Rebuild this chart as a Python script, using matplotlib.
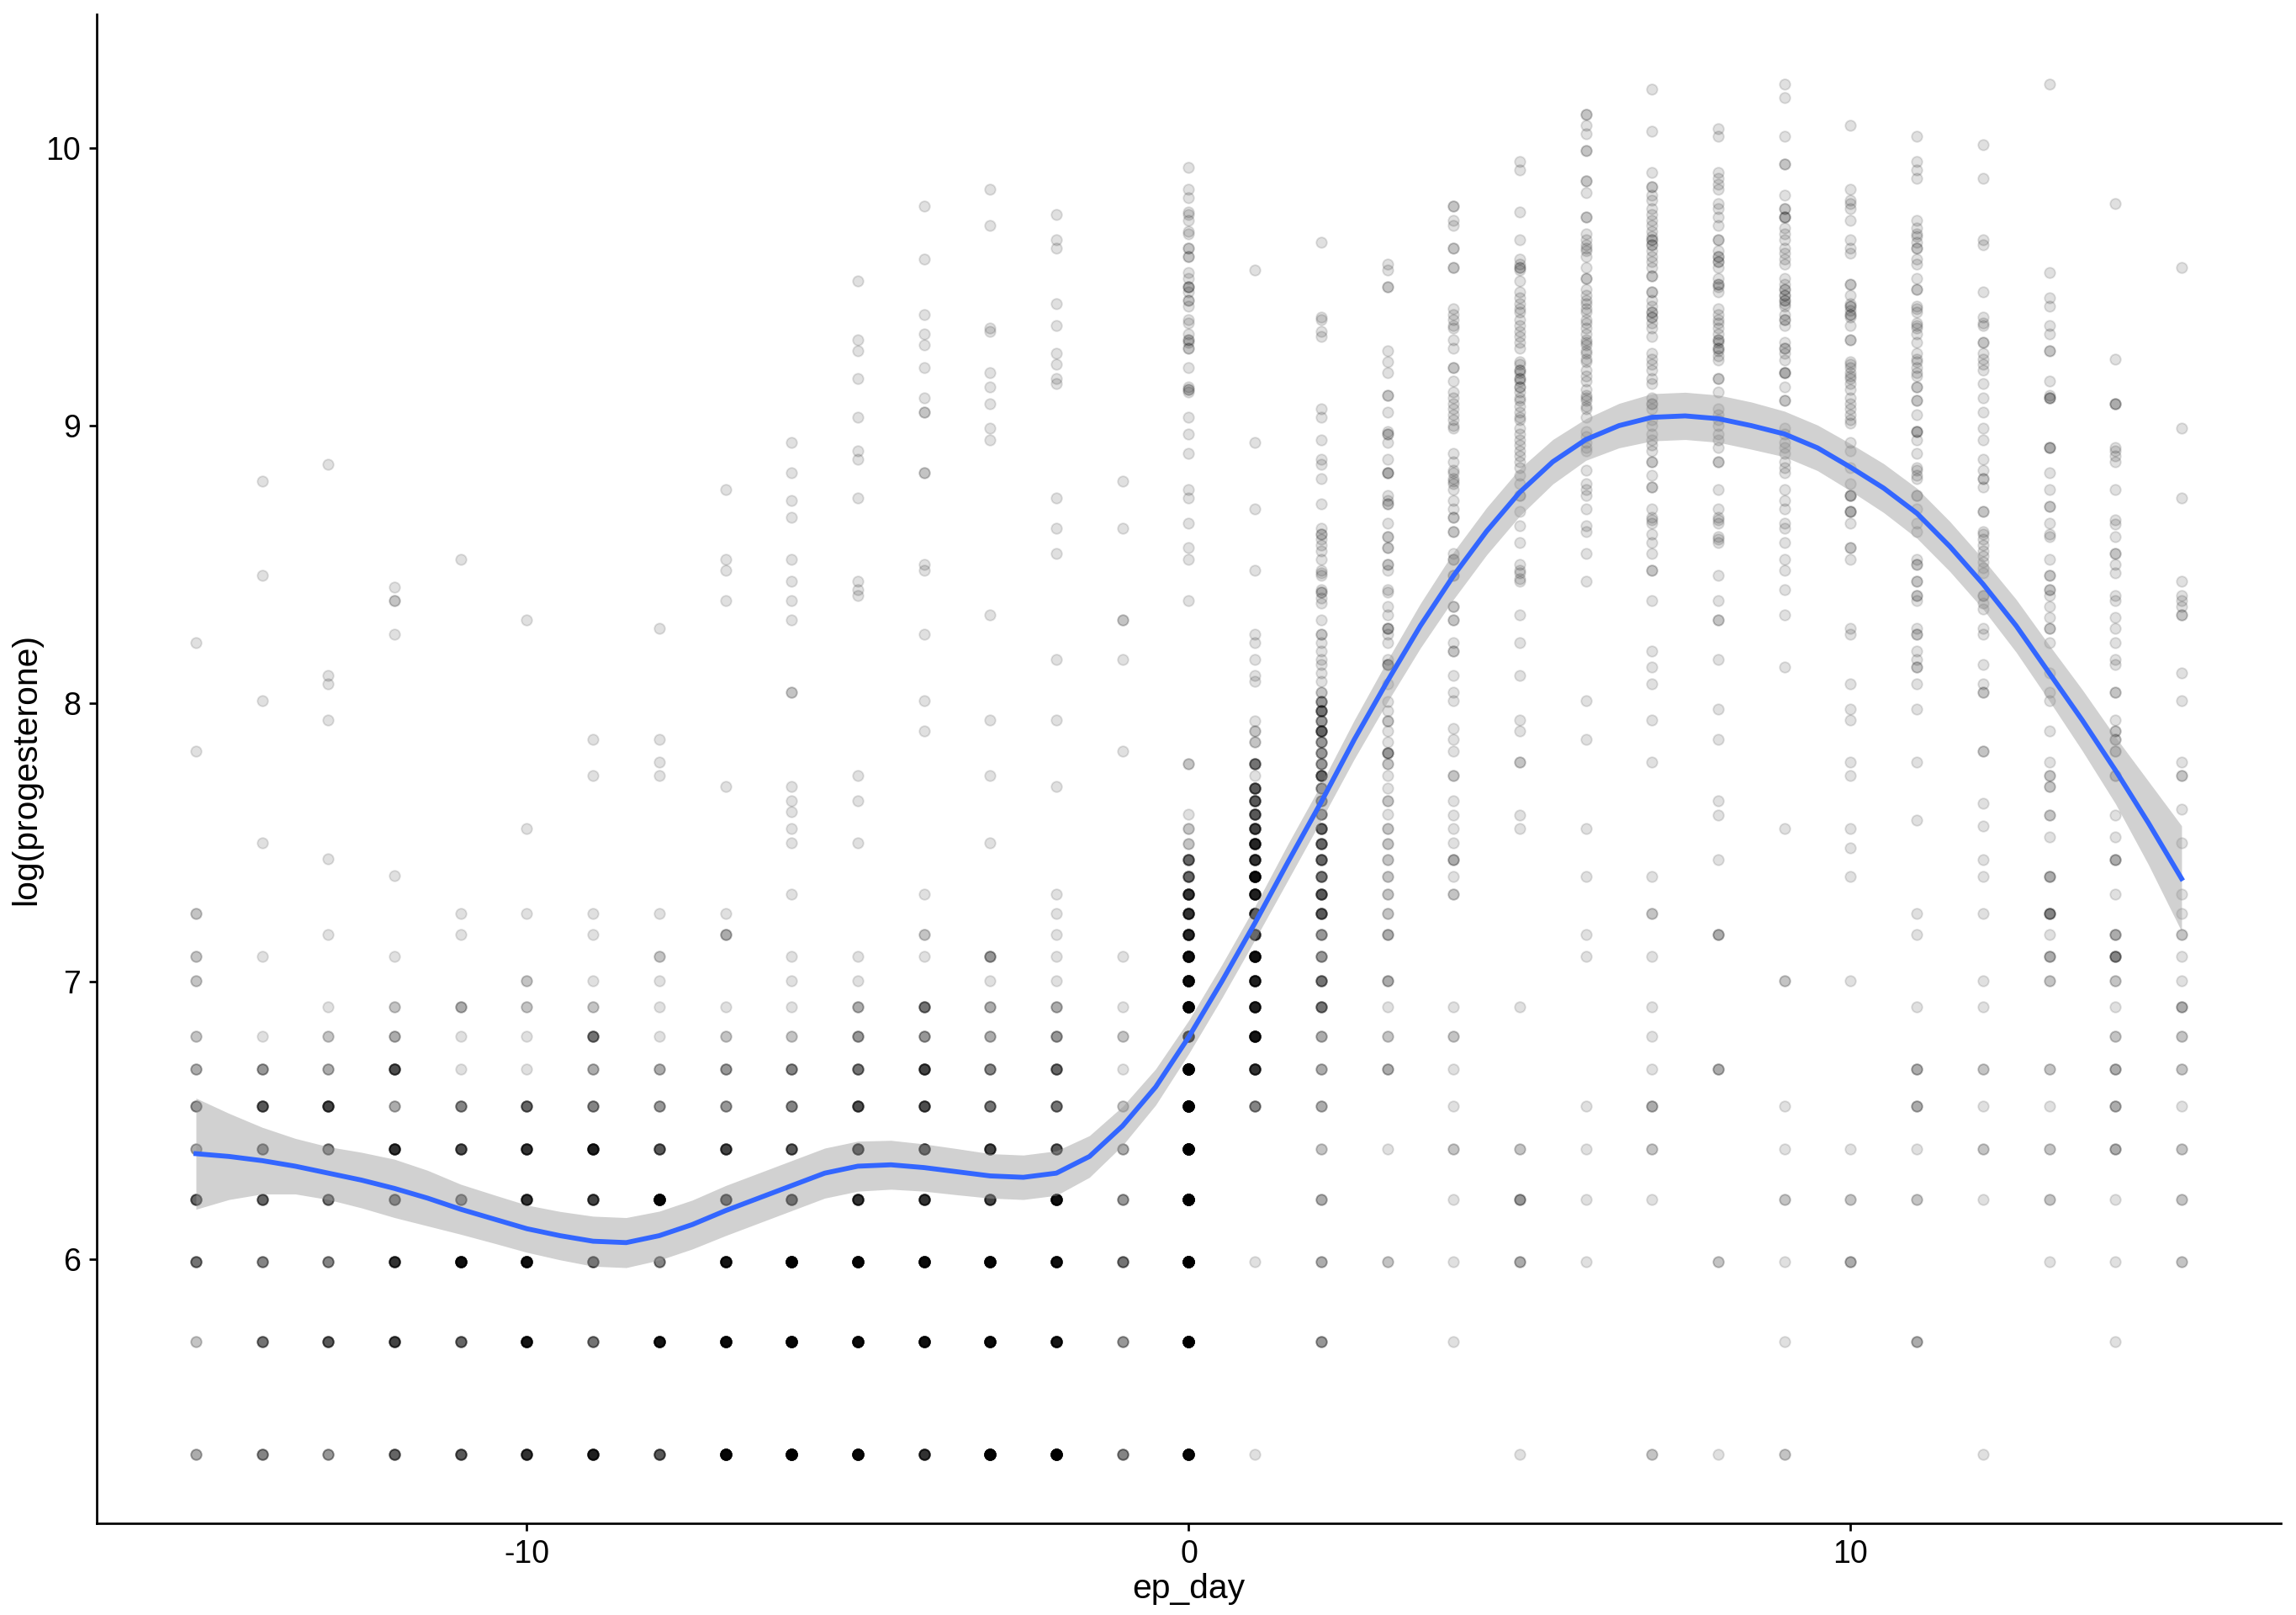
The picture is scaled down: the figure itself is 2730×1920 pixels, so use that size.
import numpy as np
import matplotlib
matplotlib.use("Agg")
import matplotlib.pyplot as plt

plt.rcParams['font.family'] = ['Liberation Sans', 'DejaVu Sans']
plt.rcParams['axes.unicode_minus'] = False

# cycle day relative to the progesterone rise
days = list(range(-15, 16))

# assay values reported in steps of 100 pg/mL; counts of samples per step and day
level_pg = [200, 300, 400, 500, 600, 700, 800, 900, 1000, 1100, 1200, 1300, 1400, 1500,
            1600, 1700, 1800, 1900, 2000, 2100, 2200, 2300, 2400, 2500, 2600, 2700, 2800,
            2900, 3000]
level_counts = [
    [3, 2, 6, 7, 3, 4, 3, 2, 0, 2, 2, 0, 2],                      # -15
    [5, 6, 5, 7, 5, 8, 4, 1, 0, 0, 1, 0],                         # -14
    [4, 8, 5, 6, 5, 10, 3, 2, 1, 0, 0, 1],                        # -13
    [7, 10, 12, 6, 12, 3, 9, 3, 2, 0, 1, 0],                      # -12
    [8, 7, 20, 5, 9, 5, 1, 1, 3, 0, 0, 1, 1],                     # -11
    [12, 18, 20, 12, 12, 7, 1, 1, 2, 2, 0, 0, 1],                 # -10
    [15, 6, 8, 10, 15, 5, 3, 6, 2, 1, 0, 1, 1],                   # -9
    [8, 18, 5, 25, 8, 4, 3, 1, 1, 1, 2, 0, 1],                    # -8
    [25, 22, 18, 8, 10, 4, 4, 2, 1, 0, 0, 3, 1],                  # -7
    [30, 25, 28, 9, 8, 5, 5, 2, 1, 1, 1, 0, 0, 1],                # -6
    [25, 22, 25, 12, 10, 9, 6, 4, 3, 1, 1, 0],                    # -5
    [12, 20, 22, 12, 10, 9, 10, 4, 6, 0, 1, 2, 0, 1],             # -4
    [28, 22, 25, 10, 10, 6, 5, 3, 3, 1, 4, 0],                    # -3
    [30, 18, 20, 20, 8, 6, 7, 4, 3, 1, 1, 1, 1, 1],               # -2
    [5, 4, 6, 4, 3, 2, 1, 2, 1, 0, 1, 0],                         # -1
    [25, 35, 40, 40, 35, 30, 30, 12, 25, 22, 20, 14, 12, 12, 7, 7, 2, 2, 1, 0, 0, 0, 2],  # 0
    [1, 0, 1, 0, 0, 5, 12, 18, 15, 15, 20, 10, 12, 15, 20, 12, 14, 10, 8, 8, 8, 1, 6,
     0, 2, 2, 1],                                                 # 1
    [0, 4, 3, 3, 2, 3, 3, 3, 6, 6, 4, 4, 8, 8, 6, 7, 7, 7, 4, 4, 4, 7, 4, 4, 4, 7, 4,
     6, 4],                                                       # 2
    [0, 0, 2, 0, 1, 0, 3, 2, 1, 3, 0, 3, 2, 2, 2, 2, 2, 2, 1, 2, 1, 1, 2, 4, 1, 1, 2,
     1, 1],                                                       # 3
    [0, 1, 1, 1, 2, 1, 1, 2, 1, 0, 0, 0, 0, 2, 1, 3],             # 4
    [1, 0, 3, 4, 2, 0, 0, 0, 1, 0, 0, 0, 0, 0, 0, 0],             # 5
    [0, 0, 1, 1, 1, 1, 0, 0, 0, 0, 1, 1, 0, 0, 1, 0],             # 6
    [2, 0, 0, 1, 2, 3, 1, 1, 1, 0, 1, 0, 2, 0, 1, 0],             # 7
    [1, 0, 2, 0, 0, 0, 3, 0, 0, 0, 0, 3, 0, 0, 0, 1],             # 8
    [2, 1, 1, 2, 1, 1, 0, 0, 0, 2, 0, 0, 0, 0, 0, 0],             # 9
    [0, 0, 3, 2, 1, 0, 0, 0, 0, 1, 0, 0, 0, 0, 1, 0],             # 10
    [0, 3, 0, 2, 1, 3, 3, 0, 1, 0, 0, 1, 1, 0, 0, 0],             # 11
    [1, 0, 0, 1, 2, 1, 2, 0, 1, 1, 0, 0, 1, 0, 1, 1],             # 12
    [0, 0, 1, 2, 2, 1, 2, 0, 0, 2, 3, 1, 5, 0, 3, 0],             # 13
    [0, 1, 1, 1, 3, 3, 3, 2, 1, 2, 5, 3, 0, 1, 0, 3],             # 14
    [0, 0, 2, 2, 2, 1, 2, 2, 3, 1, 1, 2, 1, 1, 0, 0],             # 15
]

# higher readings, already on the log scale
high_values = [
    [8.22, 7.83],
    [8.80, 8.46, 8.01, 7.50],
    [8.86, 8.10, 8.07, 7.94, 7.44],
    [8.42, 8.37, 8.37, 8.25, 7.38],
    [8.52],
    [8.30, 7.55],
    [7.87, 7.74],
    [8.27, 7.87, 7.79, 7.74],
    [8.77, 8.52, 8.48, 8.37, 7.70],
    [8.94, 8.83, 8.73, 8.67, 8.52, 8.44, 8.37, 8.30, 8.04, 8.04, 7.70, 7.65, 7.61, 7.55, 7.50],
    [9.52, 9.31, 9.27, 9.17, 9.03, 8.91, 8.88, 8.74, 8.44, 8.41, 8.39, 7.74, 7.65, 7.50],
    [9.79, 9.60, 9.40, 9.33, 9.29, 9.21, 9.10, 9.05, 9.05, 8.83, 8.83, 8.50, 8.48, 8.25,
     8.01, 7.90],
    [9.85, 9.72, 9.35, 9.34, 9.19, 9.14, 9.08, 8.99, 8.95, 8.32, 7.94, 7.74, 7.50],
    [9.76, 9.67, 9.64, 9.44, 9.36, 9.26, 9.22, 9.17, 9.15, 8.74, 8.63, 8.54, 8.16, 7.94, 7.70],
    [8.80, 8.63, 8.30, 8.30, 8.16, 7.83],
    [9.93, 9.85, 9.82, 9.77, 9.76, 9.74, 9.70, 9.69, 9.64, 9.64, 9.61, 9.61, 9.55, 9.53,
     9.50, 9.50, 9.50, 9.48, 9.45, 9.45, 9.43, 9.38, 9.37, 9.33, 9.31, 9.31, 9.30, 9.28,
     9.28, 9.21, 9.14, 9.13, 9.13, 9.12, 9.03, 8.97, 8.90, 8.77, 8.74, 8.65, 8.56, 8.52, 8.37],
    [9.56, 8.94, 8.70, 8.48, 8.25, 8.22, 8.16, 8.10, 8.08],
    [9.66, 9.39, 9.38, 9.34, 9.32, 9.06, 9.03, 8.95, 8.88, 8.86, 8.81, 8.72, 8.63, 8.61,
     8.61, 8.59, 8.57, 8.55, 8.52, 8.48, 8.47, 8.46, 8.41, 8.40, 8.40, 8.38, 8.36, 8.30,
     8.25, 8.25, 8.22, 8.19, 8.16, 8.14, 8.11, 8.08, 8.04, 8.04],
    [9.58, 9.56, 9.50, 9.50, 9.27, 9.23, 9.19, 9.11, 9.11, 9.05, 8.98, 8.97, 8.97, 8.94,
     8.88, 8.83, 8.83, 8.83, 8.75, 8.73, 8.72, 8.72, 8.65, 8.60, 8.60, 8.56, 8.56, 8.50,
     8.50, 8.48, 8.41, 8.40, 8.35, 8.32, 8.27, 8.27, 8.27, 8.25, 8.22, 8.16, 8.14, 8.14,
     8.14, 8.07],
    [9.79, 9.79, 9.74, 9.72, 9.64, 9.64, 9.57, 9.57, 9.42, 9.40, 9.38, 9.36, 9.35, 9.31,
     9.28, 9.21, 9.21, 9.16, 9.12, 9.10, 9.08, 9.06, 9.04, 9.02, 9.00, 8.99, 8.90, 8.87,
     8.84, 8.83, 8.81, 8.80, 8.79, 8.77, 8.73, 8.70, 8.67, 8.67, 8.62, 8.62, 8.54, 8.52,
     8.52, 8.46, 8.46, 8.35, 8.35, 8.30, 8.30, 8.22, 8.19, 8.19, 8.10, 8.04, 8.01, 7.91,
     7.87, 7.83, 7.74, 7.74, 7.65, 7.60, 7.55, 7.50],
    [9.95, 9.92, 9.77, 9.67, 9.60, 9.58, 9.57, 9.57, 9.56, 9.52, 9.48, 9.46, 9.44, 9.42,
     9.41, 9.38, 9.36, 9.34, 9.32, 9.30, 9.28, 9.23, 9.22, 9.20, 9.20, 9.19, 9.17, 9.17,
     9.16, 9.14, 9.14, 9.12, 9.10, 9.09, 9.07, 9.05, 9.03, 9.02, 8.99, 8.97, 8.95, 8.93,
     8.91, 8.89, 8.87, 8.85, 8.82, 8.79, 8.75, 8.75, 8.69, 8.64, 8.58, 8.50, 8.48, 8.47,
     8.45, 8.44, 8.32, 8.22, 8.10, 7.94, 7.90, 7.79, 7.79, 7.60, 7.55],
    [10.12, 10.12, 10.08, 10.05, 9.99, 9.99, 9.88, 9.88, 9.84, 9.75, 9.75, 9.69, 9.67,
     9.65, 9.64, 9.63, 9.61, 9.57, 9.53, 9.53, 9.49, 9.47, 9.45, 9.44, 9.42, 9.41, 9.38,
     9.37, 9.35, 9.33, 9.31, 9.30, 9.29, 9.27, 9.26, 9.24, 9.23, 9.20, 9.18, 9.16, 9.13,
     9.11, 9.10, 9.09, 9.07, 9.06, 9.03, 8.98, 8.96, 8.94, 8.92, 8.91, 8.84, 8.79, 8.77,
     8.75, 8.70, 8.64, 8.62, 8.54, 8.44, 8.01, 7.87, 7.55],
    [10.21, 10.06, 9.91, 9.86, 9.86, 9.83, 9.81, 9.78, 9.76, 9.74, 9.72, 9.70, 9.68, 9.67,
     9.67, 9.65, 9.65, 9.63, 9.61, 9.59, 9.57, 9.54, 9.54, 9.48, 9.48, 9.45, 9.43, 9.41,
     9.41, 9.39, 9.39, 9.37, 9.35, 9.32, 9.26, 9.24, 9.22, 9.20, 9.17, 9.15, 9.10, 9.08,
     9.08, 9.06, 9.02, 9.00, 8.97, 8.95, 8.93, 8.91, 8.87, 8.87, 8.82, 8.78, 8.78, 8.70,
     8.67, 8.66, 8.65, 8.61, 8.58, 8.54, 8.48, 8.48, 8.37, 8.19, 8.13, 8.07, 7.94, 7.79],
    [10.07, 10.04, 9.91, 9.89, 9.87, 9.85, 9.80, 9.78, 9.75, 9.72, 9.67, 9.67, 9.63, 9.61,
     9.61, 9.59, 9.59, 9.57, 9.53, 9.51, 9.51, 9.50, 9.48, 9.42, 9.40, 9.38, 9.37, 9.35,
     9.33, 9.31, 9.31, 9.30, 9.28, 9.28, 9.27, 9.25, 9.235, 9.17, 9.17, 9.12, 9.06, 9.04,
     9.02, 9.00, 8.97, 8.95, 8.92, 8.87, 8.87, 8.77, 8.70, 8.67, 8.66, 8.65, 8.60, 8.59,
     8.58, 8.46, 8.37, 8.30, 8.30, 8.16, 7.98, 7.87, 7.65, 7.60],
    [10.23, 10.18, 10.04, 9.94, 9.94, 9.83, 9.78, 9.78, 9.75, 9.75, 9.75, 9.71, 9.69, 9.67,
     9.64, 9.62, 9.60, 9.58, 9.53, 9.51, 9.49, 9.49, 9.47, 9.47, 9.45, 9.45, 9.44, 9.43,
     9.40, 9.38, 9.38, 9.36, 9.30, 9.28, 9.28, 9.26, 9.235, 9.19, 9.19, 9.19, 9.14, 9.09,
     9.09, 8.99, 8.97, 8.94, 8.92, 8.90, 8.87, 8.85, 8.83, 8.77, 8.73, 8.70, 8.65, 8.63,
     8.58, 8.52, 8.48, 8.41, 8.32, 8.13, 7.55],
    [10.08, 9.85, 9.81, 9.80, 9.78, 9.74, 9.67, 9.64, 9.62, 9.51, 9.51, 9.47, 9.44, 9.43,
     9.43, 9.415, 9.40, 9.40, 9.39, 9.36, 9.31, 9.31, 9.23, 9.22, 9.21, 9.19, 9.18, 9.17,
     9.15, 9.13, 9.10, 9.08, 9.06, 9.04, 9.02, 9.01, 8.94, 8.91, 8.85, 8.79, 8.75, 8.75,
     8.75, 8.69, 8.69, 8.69, 8.65, 8.56, 8.56, 8.52, 8.27, 8.25, 8.07, 7.98, 7.94, 7.79,
     7.74, 7.55, 7.48],
    [10.04, 9.95, 9.92, 9.89, 9.74, 9.71, 9.69, 9.68, 9.66, 9.64, 9.64, 9.60, 9.58, 9.53,
     9.49, 9.49, 9.43, 9.42, 9.41, 9.37, 9.36, 9.35, 9.33, 9.30, 9.26, 9.24, 9.23, 9.21,
     9.19, 9.18, 9.14, 9.14, 9.09, 9.09, 9.04, 8.98, 8.98, 8.98, 8.95, 8.90, 8.85, 8.84,
     8.82, 8.81, 8.75, 8.75, 8.70, 8.65, 8.62, 8.52, 8.50, 8.50, 8.44, 8.44, 8.39, 8.39,
     8.37, 8.27, 8.25, 8.25, 8.19, 8.16, 8.13, 8.13, 8.07, 7.98, 7.79, 7.58],
    [10.01, 9.89, 9.67, 9.65, 9.48, 9.39, 9.37, 9.36, 9.30, 9.30, 9.26, 9.24, 9.22, 9.20,
     9.15, 9.10, 9.05, 8.99, 8.95, 8.88, 8.84, 8.81, 8.81, 8.78, 8.69, 8.69, 8.62, 8.61,
     8.59, 8.57, 8.55, 8.53, 8.51, 8.49, 8.47, 8.39, 8.39, 8.36, 8.34, 8.27, 8.25, 8.14,
     8.07, 8.04, 8.04, 7.83, 7.83, 7.64, 7.56],
    [10.23, 9.55, 9.46, 9.43, 9.36, 9.33, 9.27, 9.27, 9.16, 9.11, 9.10, 9.10, 9.10, 8.92,
     8.92, 8.92, 8.83, 8.77, 8.71, 8.71, 8.65, 8.61, 8.60, 8.52, 8.46, 8.46, 8.41, 8.41,
     8.39, 8.35, 8.31, 8.27, 8.27, 8.22, 8.11, 8.04, 8.01, 7.90, 7.79, 7.74, 7.74, 7.70,
     7.70, 7.60, 7.60, 7.52],
    [9.80, 9.24, 9.08, 9.08, 9.08, 8.92, 8.91, 8.89, 8.87, 8.77, 8.66, 8.645, 8.60, 8.54,
     8.54, 8.50, 8.47, 8.39, 8.37, 8.31, 8.27, 8.22, 8.16, 8.14, 8.04, 8.04, 7.94, 7.90,
     7.90, 7.87, 7.87, 7.83, 7.83, 7.74, 7.74, 7.60, 7.52],
    [9.57, 8.99, 8.74, 8.44, 8.39, 8.37, 8.35, 8.32, 8.32, 8.11, 8.01, 7.79, 7.74, 7.74,
     7.62, 7.50],
]

# loess fit with its 95% band
smooth_x = [-15, -14.5, -14, -13.5, -13, -12.5, -12, -11.5, -11, -10.5, -10, -9.5, -9,
            -8.5, -8, -7.5, -7, -6.5, -6, -5.5, -5, -4.5, -4, -3.5, -3, -2.5, -2, -1.5,
            -1, -0.5, 0, 0.5, 1, 1.5, 2, 2.5, 3, 3.5, 4, 4.5, 5, 5.5, 6, 6.5, 7, 7.5, 8,
            8.5, 9, 9.5, 10, 10.5, 11, 11.5, 12, 12.5, 13, 13.5, 14, 14.5, 15]
smooth_y = [6.38, 6.37, 6.355, 6.335, 6.31, 6.285, 6.255, 6.22, 6.18, 6.145, 6.11, 6.085,
            6.065, 6.06, 6.085, 6.125, 6.175, 6.22, 6.265, 6.31, 6.335, 6.34, 6.33, 6.315,
            6.30, 6.295, 6.31, 6.37, 6.48, 6.62, 6.80, 7.00, 7.21, 7.43, 7.645, 7.87, 8.08,
            8.28, 8.46, 8.62, 8.76, 8.87, 8.95, 9.00, 9.03, 9.035, 9.025, 9.00, 8.97, 8.92,
            8.85, 8.775, 8.685, 8.565, 8.43, 8.28, 8.11, 7.94, 7.76, 7.57, 7.37]
smooth_se = [0.20, 0.155, 0.12, 0.10, 0.095, 0.10, 0.105, 0.10, 0.09, 0.087, 0.085, 0.087,
             0.09, 0.09, 0.088, 0.088, 0.09, 0.09, 0.09, 0.09, 0.09, 0.088, 0.085, 0.083,
             0.08, 0.08, 0.08, 0.075, 0.07, 0.065, 0.06, 0.06, 0.06, 0.065, 0.065, 0.07,
             0.075, 0.08, 0.085, 0.085, 0.085, 0.08, 0.075, 0.08, 0.085, 0.085, 0.085,
             0.085, 0.082, 0.082, 0.085, 0.088, 0.09, 0.09, 0.09, 0.095, 0.10, 0.11, 0.12,
             0.15, 0.19]

# collect the points
px, py = [], []
for d, counts, highs in zip(days, level_counts, high_values):
    for lv, c in zip(level_pg, counts):
        px += [d] * c
        py += [np.log(lv)] * c
    px += [d] * len(highs)
    py += highs

fig = plt.figure(figsize=(9.1, 6.4), dpi=300)
ax = fig.add_axes([0.0421, 0.0568, 0.9513, 0.9343])

ax.scatter(px, py, s=9, c='black', edgecolors='black', linewidths=0.45, alpha=0.12, zorder=2)

sy = np.array(smooth_y)
se = np.array(smooth_se)
ax.fill_between(smooth_x, sy - se, sy + se, color='#999999', alpha=0.45, linewidth=0, zorder=3)
ax.plot(smooth_x, sy, color='#3366FF', linewidth=1.4, zorder=4)

ax.set_xlim(-16.5, 16.5)
ax.set_ylim(5.05, 10.48)
ax.set_xticks([-10, 0, 10])
ax.set_yticks([6, 7, 8, 9, 10])

for side in ['top', 'right']:
    ax.spines[side].set_visible(False)
for side in ['left', 'bottom']:
    ax.spines[side].set_linewidth(0.65)
    ax.spines[side].set_color('black')
ax.tick_params(direction='out', length=2.2, width=0.65, colors='black', labelsize=9, pad=2.3)

ax.set_xlabel('ep_day', fontsize=9.8, labelpad=1.0)
ax.set_ylabel('log(progesterone)', fontsize=9.8, labelpad=1.0)

fig.savefig('out.png', dpi=300)
